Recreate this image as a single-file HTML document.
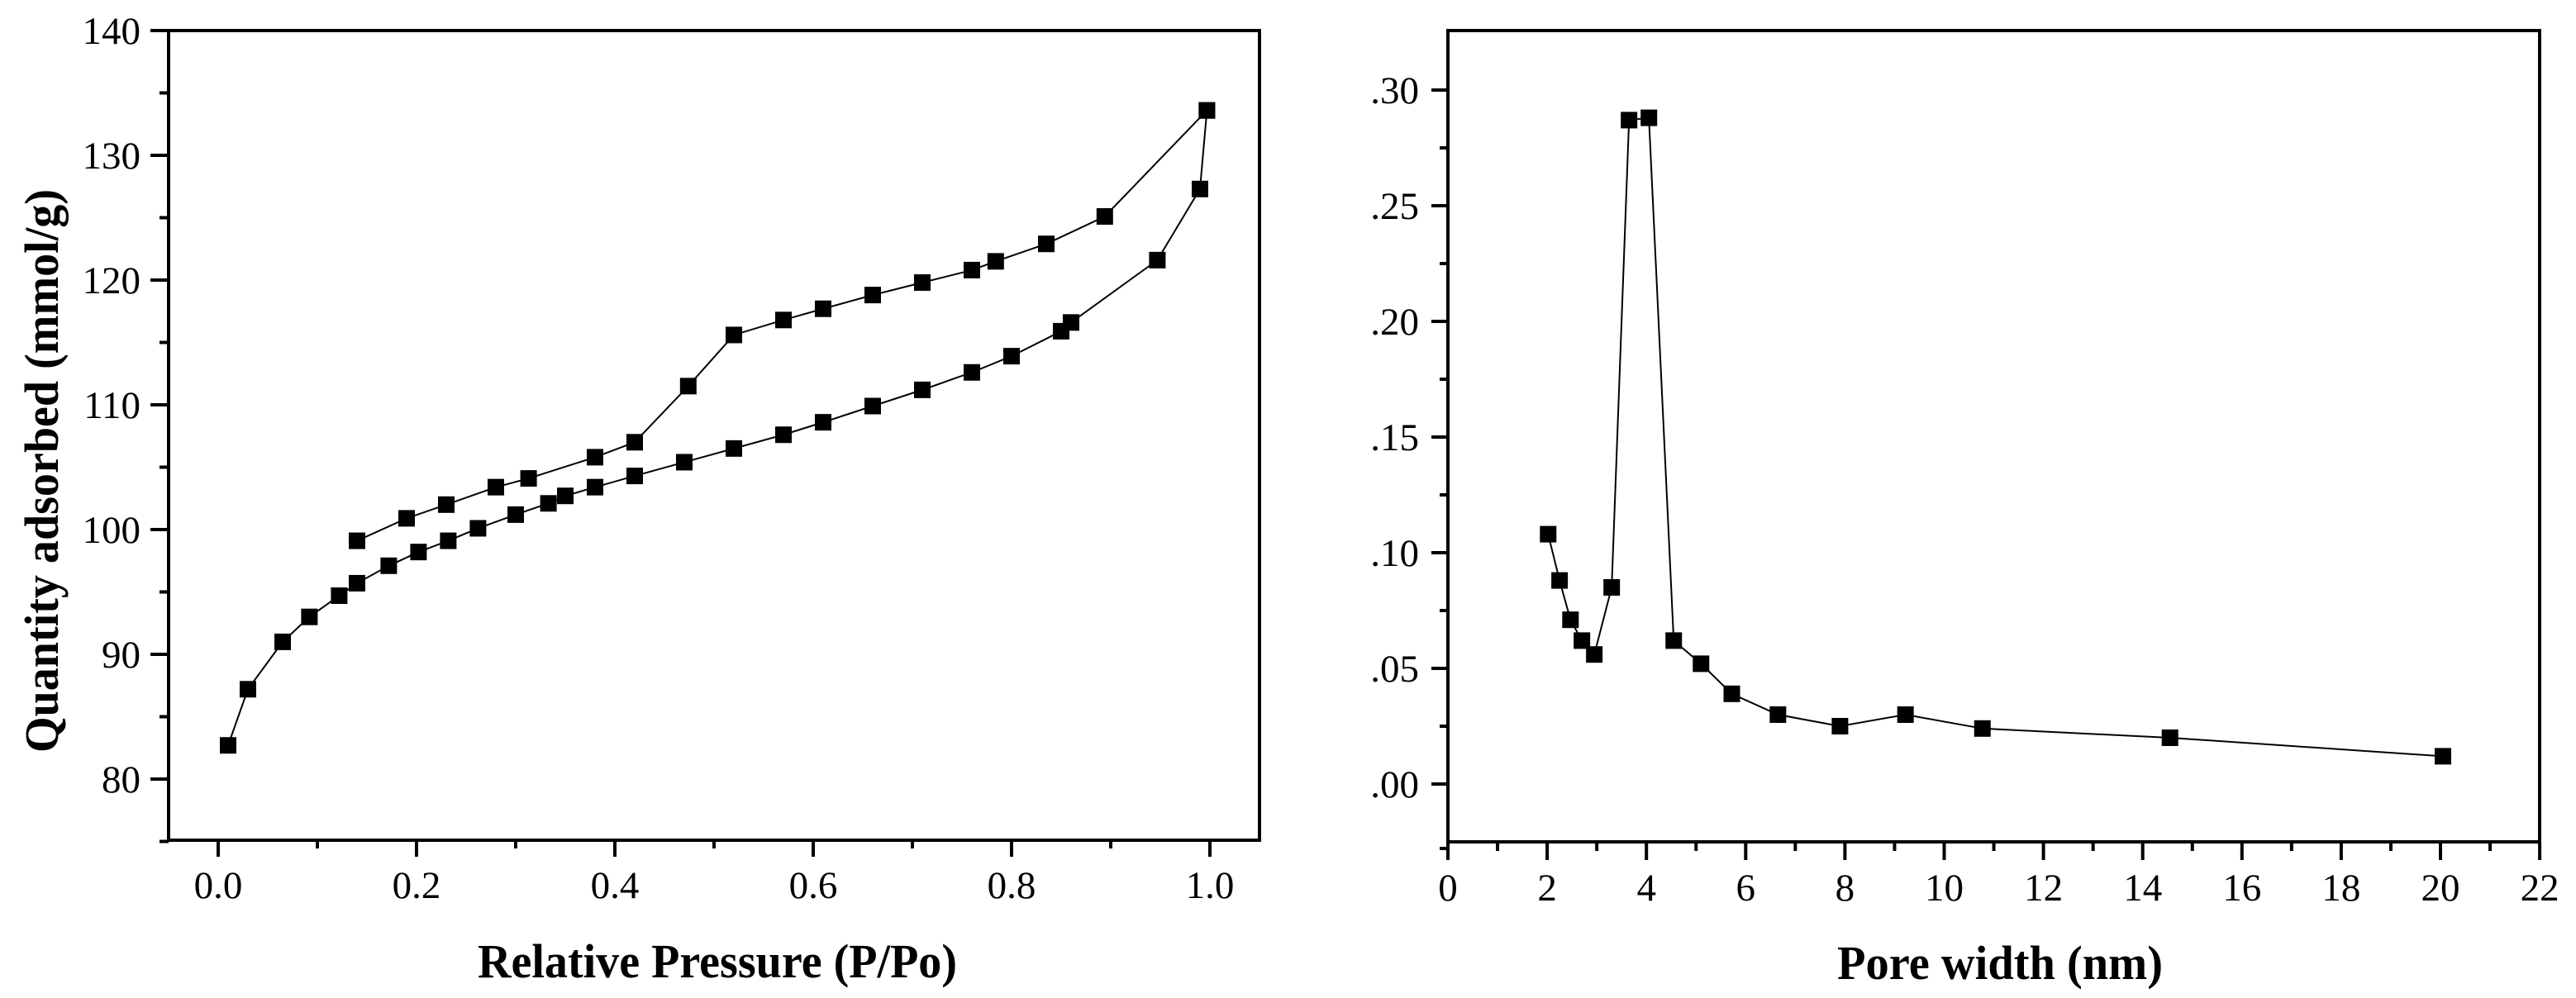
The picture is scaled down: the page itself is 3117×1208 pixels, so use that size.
<!DOCTYPE html>
<html><head><meta charset="utf-8"><style>
html,body{margin:0;padding:0;background:#fff;}
svg{display:block;}
text{font-family:"Liberation Serif",serif;fill:#000;}
</style></head><body>
<svg id="c" width="3117" height="1208" viewBox="0 0 3117 1208">
<defs><clipPath id="rclip"><rect x="1657" y="0" width="1460" height="1208"/></clipPath></defs>
<g id="left"></g>
<g id="right"></g>
</svg>
<script>
const isoAdsX=[0.01,0.03,0.065,0.092,0.122,0.14,0.172,0.202,0.232,0.262,0.3,0.333,0.35,0.38,0.42,0.47,0.52,0.57,0.61,0.66,0.71,0.76,0.80,0.85,0.86,0.947,0.99,0.997];
const isoAdsY=[82.7,87.2,91.0,93.0,94.7,95.7,97.1,98.2,99.1,100.1,101.2,102.1,102.7,103.4,104.3,105.4,106.5,107.6,108.6,109.9,111.2,112.6,113.9,115.9,116.6,121.6,127.3,133.6];
const isoDesX=[0.997,0.894,0.835,0.784,0.76,0.71,0.66,0.61,0.57,0.52,0.474,0.42,0.38,0.313,0.28,0.23,0.19,0.14];
const isoDesY=[133.6,125.1,122.9,121.5,120.8,119.8,118.8,117.7,116.8,115.6,111.5,107.0,105.8,104.1,103.4,102.0,100.9,99.1];
const leftXTicks=["0.0","0.2","0.4","0.6","0.8","1.0"];
const leftYTicks=["80","90","100","110","120","130","140"];
const poreX=[2.02,2.25,2.47,2.7,2.95,3.3,3.65,4.05,4.55,5.1,5.72,6.65,7.9,9.22,10.77,14.55,20.05];
const poreY=[0.108,0.088,0.071,0.062,0.056,0.085,0.287,0.288,0.062,0.052,0.039,0.030,0.025,0.030,0.024,0.020,0.012];
const rightXTicks=["0","2","4","6","8","10","12","14","16","18","20","22"];
const rightYTicks=["0.00","0.05","0.10","0.15","0.20","0.25","0.30"];

const NS="http://www.w3.org/2000/svg";
function mk(parent,tag,attrs){const e=document.createElementNS(NS,tag);for(const k in attrs)e.setAttribute(k,attrs[k]);parent.appendChild(e);return e;}

// left axes
const lx=v=>264+(v)*1200;
const ly=v=>37+(140-v)*15.1;
// right axes
const rx=v=>1752+v*60.05;
const ry=v=>949-v*2800;

function frame(g,x0,y0,x1,y1){
  const f=mk(g,'rect',{x:x0,y:y0,width:x1-x0,height:y1-y0,fill:'none',stroke:'#000','stroke-width':4});
  
  
}
function series(g,xs,ys,fx,fy,name){
  const pts=xs.map((x,i)=>fx(x)+','+fy(ys[i])).join(' ');
  const pl=mk(g,'polyline',{points:pts,fill:'none',stroke:'#000','stroke-width':2});
  
  
  xs.forEach((x,i)=>{
    const r=mk(g,'rect',{x:fx(x)-10,y:fy(ys[i])-10,width:20,height:20,fill:'#000'});
    
    
  });
}

// ---- LEFT ----
const L=document.getElementById('left');
frame(L,204,37,1524,1017);
for(let v=75;v<=140;v+=5){
  const major=v%10===0;
  const t=mk(L,'line',{x1:204-(major?22:11),x2:204,y1:ly(v),y2:ly(v),stroke:'#000','stroke-width':4});
  
  
}
leftYTicks.forEach(s=>{
  const t=mk(L,'text',{x:170,y:ly(+s)+16,'font-size':47,'text-anchor':'end'});t.textContent=s;
  
  
});
for(let i=0;i<=10;i++){
  const v=i/10,major=i%2===0;
  const t=mk(L,'line',{x1:lx(v),x2:lx(v),y1:1017,y2:1017+(major?20:10),stroke:'#000','stroke-width':4});
  
  
}
leftXTicks.forEach(s=>{
  const t=mk(L,'text',{x:lx(+s),y:1087,'font-size':47,'text-anchor':'middle'});t.textContent=s;
  
  
});
series(L,isoAdsX,isoAdsY,lx,ly,'adsorption');
series(L,isoDesX,isoDesY,lx,ly,'desorption');
let xt=mk(L,'text',{x:868,y:1183,'font-size':58,'font-weight':'bold','text-anchor':'middle',textLength:580,lengthAdjust:'spacingAndGlyphs'});
xt.textContent='Relative Pressure (P/Po)';


let yt=mk(L,'text',{x:0,y:0,'font-size':58,'font-weight':'bold','text-anchor':'middle',textLength:682,lengthAdjust:'spacingAndGlyphs',transform:'translate(70,570) rotate(-90)'});
yt.textContent='Quantity adsorbed (mmol/g)';



// ---- RIGHT ----
const R=document.getElementById('right');
frame(R,1752,37,3073,1019);
for(let k=0;k<=6;k++){
  for(const h of [0,0.025]){
    const v=k*0.05+h; if(ry(v)<40) continue;
    const major=h===0;
    const t=mk(R,'line',{x1:1752-(major?20:10),x2:1752,y1:ry(v),y2:ry(v),stroke:'#000','stroke-width':4});
    
    
  }
}
const mt=mk(R,'line',{x1:1742,x2:1752,y1:ry(-0.025)+8,y2:ry(-0.025)+8,stroke:'#000','stroke-width':4});


const rlab=mk(R,'g',{'clip-path':'url(#rclip)'});


rightYTicks.forEach(s=>{
  const t=mk(rlab,'text',{x:1717,y:ry(+s)+16,'font-size':47,'text-anchor':'end'});t.textContent=s;
  
  
});
for(let v=0;v<=22;v++){
  const major=v%2===0;
  const t=mk(R,'line',{x1:rx(v),x2:rx(v),y1:1019,y2:1019+(major?22:11),stroke:'#000','stroke-width':4});
  
  
}
rightXTicks.forEach(s=>{
  const t=mk(R,'text',{x:rx(+s),y:1090,'font-size':47,'text-anchor':'middle'});t.textContent=s;
  
  
});
series(R,poreX,poreY,rx,ry,'pore-distribution');
let rt=mk(R,'text',{x:2420,y:1185,'font-size':58,'font-weight':'bold','text-anchor':'middle',textLength:394,lengthAdjust:'spacingAndGlyphs'});
rt.textContent='Pore width (nm)';


</script>
</body></html>
